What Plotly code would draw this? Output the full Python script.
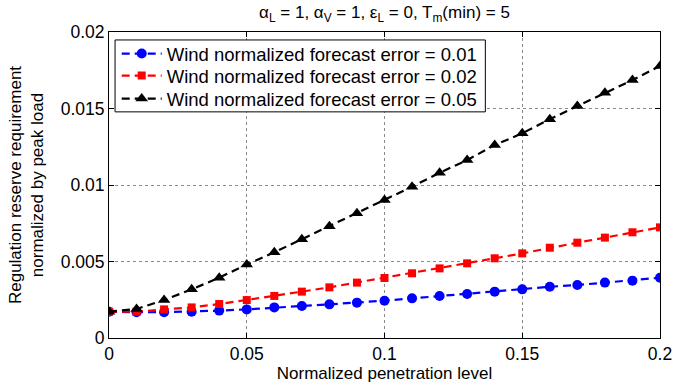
import plotly.graph_objects as go

penetration = [0.00, 0.01, 0.02, 0.03, 0.04, 0.05, 0.06, 0.07, 0.08, 0.09, 0.10,
               0.11, 0.12, 0.13, 0.14, 0.15, 0.16, 0.17, 0.18, 0.19, 0.20]

err_001 = [0.00172, 0.00168, 0.00169, 0.00172, 0.00179, 0.00187, 0.00200, 0.00209, 0.00220, 0.00231, 0.00244,
           0.00259, 0.00275, 0.00288, 0.00303, 0.00318, 0.00335, 0.00346, 0.00362, 0.00375, 0.00394]
err_002 = [0.00172, 0.00172, 0.00187, 0.00200, 0.00222, 0.00248, 0.00275, 0.00303, 0.00331, 0.00362, 0.00392,
           0.00423, 0.00455, 0.00488, 0.00521, 0.00553, 0.00590, 0.00623, 0.00656, 0.00691, 0.00723]
err_005 = [0.00172, 0.00190, 0.00248, 0.00318, 0.00394, 0.00481, 0.00560, 0.00645, 0.00730, 0.00815, 0.00902,
           0.00989, 0.01080, 0.01163, 0.01261, 0.01338, 0.01430, 0.01516, 0.01603, 0.01686, 0.01778]

names = ["Wind normalized forecast error = 0.01",
         "Wind normalized forecast error = 0.02",
         "Wind normalized forecast error = 0.05"]

x_ticks = [0, 0.05, 0.1, 0.15, 0.2]
x_tick_labels = ["0", "0.05", "0.1", "0.15", "0.2"]
y_ticks = [0, 0.005, 0.01, 0.015, 0.02]
y_tick_labels = ["0", "0.005", "0.01", "0.015", "0.02"]

FONT = "Liberation Sans, Arial, sans-serif"
FS = 17.5

fig = go.Figure()
styles = [
    (err_001, "#0000ff", "circle", 10, "legend"),
    (err_002, "#ff0000", "square", 8, "legend2"),
    (err_005, "#000000", "triangle-up", 11, "legend3"),
]
for (vals, color, sym, sz, leg), name in zip(styles, names):
    fig.add_trace(go.Scatter(
        x=penetration, y=vals, name=name, mode="lines+markers", legend=leg,
        line=dict(color=color, width=2.2, dash="8px,5px"),
        marker=dict(color=color, symbol=sym, size=sz, line=dict(width=0)),
    ))

axis_common = dict(
    showline=True, linecolor="black", linewidth=1, mirror="ticks",
    ticks="inside", ticklen=5, tickcolor="black", automargin=False,
    showgrid=True, gridcolor="#8a8a8a", griddash="dot", gridwidth=1,
    zeroline=False, tickfont=dict(family=FONT, size=FS, color="black"),
)

# legend box (the three legend rows sit on it)
fig.add_shape(type="rect", xref="paper", yref="paper",
              x0=0.011, x1=0.683, y0=0.739, y1=0.974,
              line=dict(color="black", width=1), fillcolor="white", layer="above")

leg_common = dict(xanchor="left", yanchor="middle", bgcolor="rgba(0,0,0,0)",
                  borderwidth=0, font=dict(family=FONT, size=18.5, color="black"),
                  itemwidth=40)

fig.update_layout(
    width=673, height=387,
    margin=dict(l=109, r=13, t=32, b=49, autoexpand=False),
    paper_bgcolor="white", plot_bgcolor="white",
    font=dict(family=FONT, size=FS, color="black"),
    title=dict(
        text="α<sub>L</sub> = 1, α<sub>V</sub> = 1, ε<sub>L</sub> = 0, T<sub>m</sub>(min) = 5",
        x=0.5, xref="paper", xanchor="center", y=0.968, yanchor="middle",
        font=dict(family=FONT, size=17, color="black"),
    ),
    xaxis=dict(range=[0, 0.2], tickvals=x_ticks, ticktext=x_tick_labels,
               title=dict(text="Normalized penetration level", standoff=0,
                          font=dict(family=FONT, size=17)),
               **axis_common),
    yaxis=dict(range=[0, 0.02], tickvals=y_ticks, ticktext=y_tick_labels,
               title=dict(text="Regulation reserve requirement<br>normalized by peak load",
                          standoff=12, font=dict(family=FONT, size=17)),
               **axis_common),
    legend=dict(x=0.014, y=0.928, **leg_common),
    legend2=dict(x=0.014, y=0.856, **leg_common),
    legend3=dict(x=0.014, y=0.781, **leg_common),
    showlegend=True,
)

fig.write_html("out.html", config={"displayModeBar": False},
               post_script="document.body.style.margin='0';document.body.style.padding='0';")
